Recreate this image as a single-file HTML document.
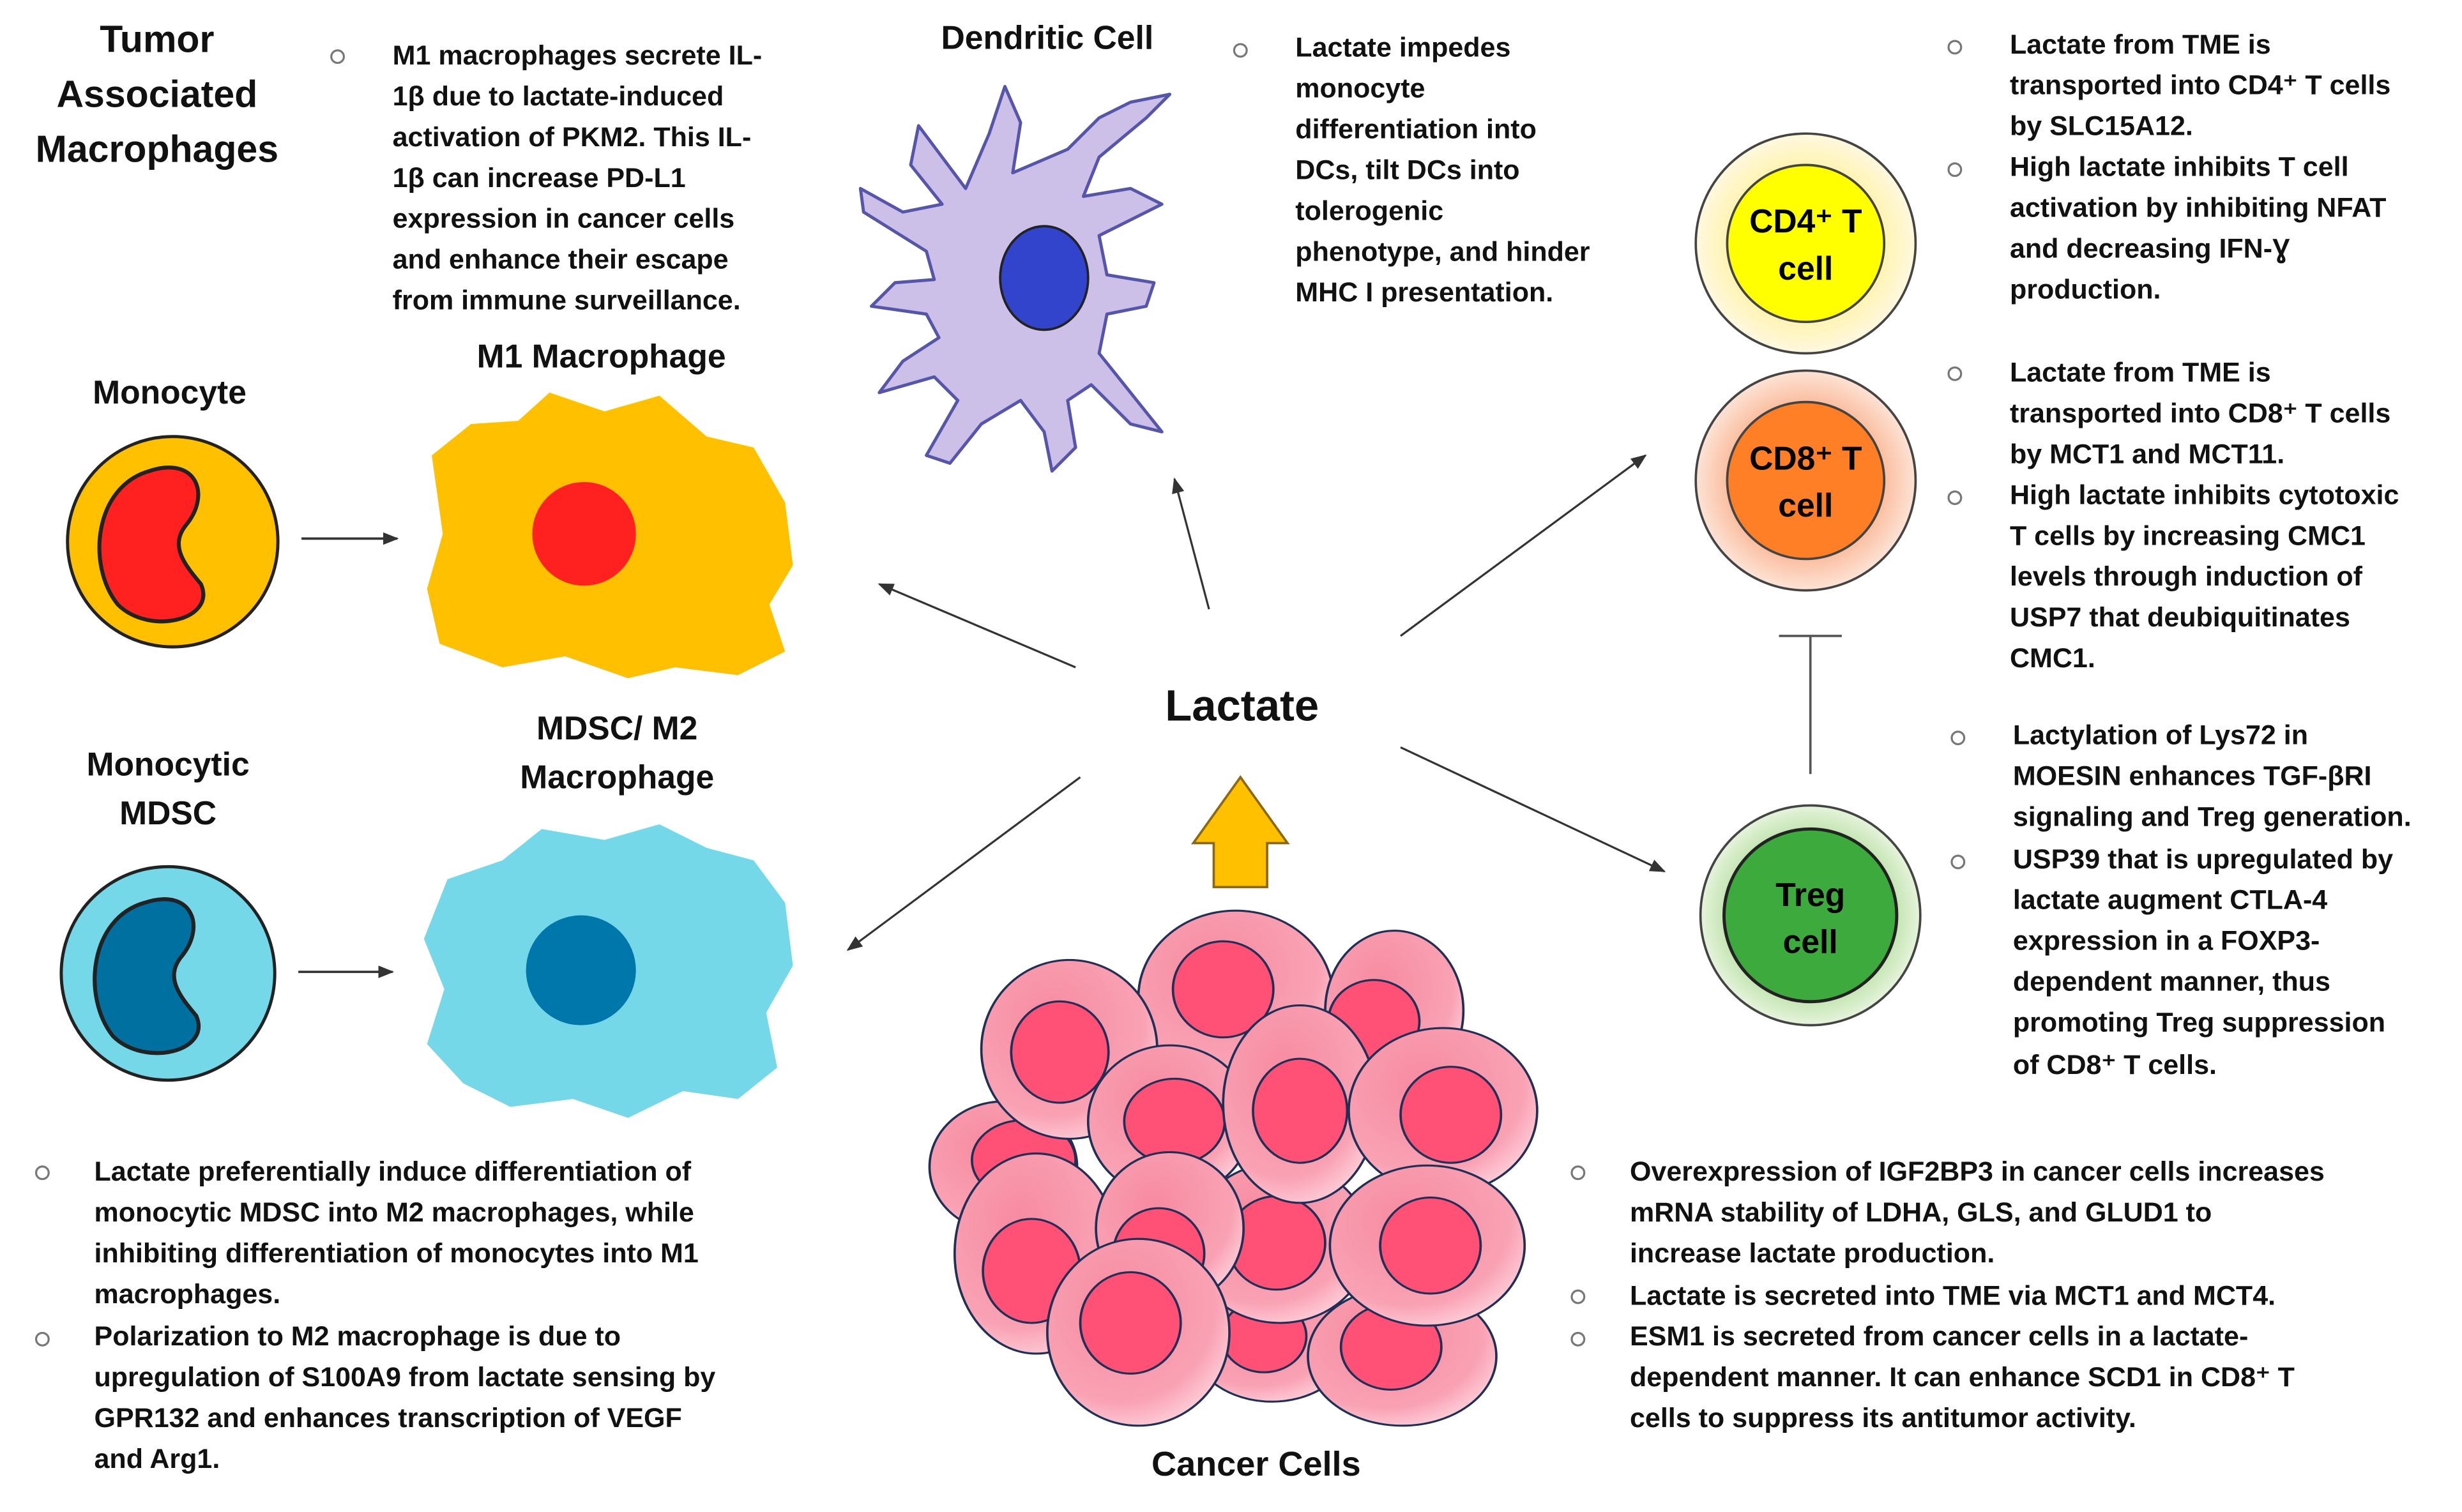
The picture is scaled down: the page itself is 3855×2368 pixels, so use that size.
<!DOCTYPE html>
<html><head><meta charset="utf-8"><style>html,body{margin:0;padding:0;background:#fff}svg{display:block}</style></head>
<body>
<svg width="3855" height="2368" viewBox="0 0 1568 963" xmlns="http://www.w3.org/2000/svg" font-family="Liberation Sans, sans-serif" font-weight="bold">
<defs>
<radialGradient id="pk" cx="0.4" cy="0.35" r="0.7"><stop offset="0" stop-color="#F78AA0"/><stop offset="0.75" stop-color="#F9A2B4"/><stop offset="1" stop-color="#FFD0DA"/></radialGradient>
<radialGradient id="g4"><stop offset="0.6" stop-color="#FFF2A0"/><stop offset="1" stop-color="#FFF8E0"/></radialGradient>
<radialGradient id="g8"><stop offset="0.6" stop-color="#F9B08A"/><stop offset="1" stop-color="#FDE3D6"/></radialGradient>
<radialGradient id="gt"><stop offset="0.6" stop-color="#A8D890"/><stop offset="1" stop-color="#E6F4DC"/></radialGradient>
<marker id="ar" markerWidth="10" markerHeight="8" refX="9" refY="4" orient="auto" markerUnits="userSpaceOnUse"><path d="M0,0 L10,4 L0,8 z" fill="#333"/></marker>
</defs>
<g font-size="24" text-anchor="middle" fill="#111">
<text x="100" y="33">Tumor</text><text x="100" y="68">Associated</text><text x="100" y="103">Macrophages</text>
</g>
<g font-size="21" text-anchor="middle" fill="#111">
<text x="667" y="31">Dendritic Cell</text>
<text x="108" y="257">Monocyte</text>
<text x="383" y="234">M1 Macrophage</text>
<text x="107" y="494">Monocytic</text><text x="107" y="525">MDSC</text>
<text x="393" y="471">MDSC/ M2</text><text x="393" y="502">Macrophage</text>
<text x="800" y="940" font-size="22">Cancer Cells</text>
<text x="791" y="459" font-size="28">Lactate</text>
</g>
<g fill="none" stroke="#777" stroke-width="1.3">
<circle cx="215" cy="36" r="4"/><circle cx="790" cy="32" r="4"/><circle cx="1245" cy="30" r="4"/><circle cx="1245" cy="108" r="4"/>
<circle cx="1245" cy="238" r="4"/><circle cx="1245" cy="317" r="4"/><circle cx="1247" cy="470" r="4"/><circle cx="1247" cy="549" r="4"/>
<circle cx="27" cy="747" r="4"/><circle cx="27" cy="853" r="4"/><circle cx="1005" cy="747" r="4"/><circle cx="1005" cy="826" r="4"/><circle cx="1005" cy="853" r="4"/>
</g>
<g font-size="17.5" fill="#111">
<text x="250" y="41">M1 macrophages secrete IL-</text><text x="250" y="67">1β due to lactate-induced</text><text x="250" y="93">activation of PKM2. This IL-</text><text x="250" y="119">1β can increase PD-L1</text><text x="250" y="145">expression in cancer cells</text><text x="250" y="171">and enhance their escape</text><text x="250" y="197">from immune surveillance.</text>
<text x="825" y="36">Lactate impedes</text><text x="825" y="62">monocyte</text><text x="825" y="88">differentiation into</text><text x="825" y="114">DCs, tilt DCs into</text><text x="825" y="140">tolerogenic</text><text x="825" y="166">phenotype, and hinder</text><text x="825" y="192">MHC I presentation.</text>
<text x="1280" y="34">Lactate from TME is</text><text x="1280" y="60">transported into CD4⁺ T cells</text><text x="1280" y="86">by SLC15A12.</text><text x="1280" y="112">High lactate inhibits T cell</text><text x="1280" y="138">activation by inhibiting  NFAT</text><text x="1280" y="164">and decreasing IFN-Ɣ</text><text x="1280" y="190">production.</text>
<text x="1280" y="243">Lactate from TME is</text><text x="1280" y="269">transported into CD8⁺ T cells</text><text x="1280" y="295">by MCT1 and MCT11.</text><text x="1280" y="321">High lactate inhibits cytotoxic</text><text x="1280" y="347">T cells by increasing CMC1</text><text x="1280" y="373">levels through induction of</text><text x="1280" y="399">USP7 that deubiquitinates</text><text x="1280" y="425">CMC1.</text>
<text x="1282" y="474">Lactylation of Lys72 in</text><text x="1282" y="500">MOESIN enhances TGF-βRI</text><text x="1282" y="526">signaling and Treg generation.</text><text x="1282" y="553">USP39 that is upregulated by</text><text x="1282" y="579">lactate augment CTLA-4</text><text x="1282" y="605">expression in a FOXP3-</text><text x="1282" y="631">dependent manner, thus</text><text x="1282" y="657">promoting Treg suppression</text><text x="1282" y="684">of CD8⁺ T cells.</text>
<text x="60" y="752">Lactate preferentially induce differentiation of</text><text x="60" y="778">monocytic MDSC into M2 macrophages, while</text><text x="60" y="804">inhibiting differentiation of monocytes into M1</text><text x="60" y="830">macrophages.</text>
<text x="60" y="857">Polarization to M2 macrophage is due to</text><text x="60" y="883">upregulation of S100A9 from lactate sensing by</text><text x="60" y="909">GPR132 and enhances transcription of VEGF</text><text x="60" y="935">and Arg1.</text>
<text x="1038" y="752">Overexpression of IGF2BP3 in cancer cells increases</text><text x="1038" y="778">mRNA stability of LDHA, GLS, and GLUD1 to</text><text x="1038" y="804">increase lactate production.</text>
<text x="1038" y="831">Lactate is secreted into TME via MCT1 and MCT4.</text>
<text x="1038" y="857">ESM1 is secreted from cancer cells in a lactate-</text><text x="1038" y="883">dependent manner. It can enhance SCD1 in CD8⁺ T</text><text x="1038" y="909">cells to suppress its antitumor activity.</text>
</g>
<circle cx="110" cy="345" r="67" fill="#FFC000" stroke="#222" stroke-width="2"/>
<path d="M95,300 C125,290 135,315 118,335 C108,348 118,360 128,372 C138,395 95,405 75,385 C55,360 60,310 95,300 z" fill="#FF2020" stroke="#222" stroke-width="2.5"/>
<path d="M275,290 L300,270 L330,268 L350,250 L385,262 L420,252 L450,278 L480,285 L500,320 L505,360 L490,385 L500,415 L470,430 L430,425 L400,432 L360,418 L320,425 L280,410 L272,375 L282,340 z" fill="#FFC000"/>
<circle cx="372" cy="340" r="33" fill="#FF2020"/>
<line x1="192" y1="343" x2="253" y2="343" stroke="#333" stroke-width="1.5" marker-end="url(#ar)"/>
<circle cx="107" cy="620" r="68" fill="#75D8E8" stroke="#222" stroke-width="2"/>
<path d="M92,575 C122,565 132,590 115,610 C105,623 115,635 125,647 C135,670 92,680 72,660 C52,635 57,585 92,575 z" fill="#0070A0" stroke="#222" stroke-width="2.5"/>
<path d="M285,560 L320,548 L345,528 L385,535 L420,525 L450,540 L480,548 L500,575 L505,615 L488,645 L495,680 L470,700 L435,695 L400,712 L365,700 L325,705 L295,690 L272,665 L283,630 L270,598 z" fill="#75D8E8"/>
<circle cx="370" cy="618" r="35" fill="#0077AA"/>
<line x1="190" y1="619" x2="250" y2="619" stroke="#333" stroke-width="1.5" marker-end="url(#ar)"/>
<path d="M600,130 L580,105 L585,80 L600,100 L615,120 L630,85 L640,55 L650,78 L645,110 L680,95 L700,75 L720,65 L745,60 L730,75 L700,100 L690,125 L720,120 L740,130 L720,140 L700,150 L705,175 L735,180 L730,195 L705,200 L700,225 L720,250 L740,275 L720,270 L695,245 L680,255 L685,285 L670,300 L665,275 L650,255 L625,270 L605,295 L590,290 L610,255 L595,240 L560,250 L575,230 L598,215 L590,200 L555,195 L570,180 L595,178 L590,160 L550,135 L548,120 L575,135 z" fill="#CCC0E8" stroke="#5555AA" stroke-width="2" stroke-linejoin="round"/>
<ellipse cx="665" cy="177" rx="28" ry="33" fill="#3344CC" stroke="#222" stroke-width="1.5"/>
<circle cx="1150" cy="155" r="70" fill="url(#g4)" stroke="#444" stroke-width="1.5"/>
<circle cx="1150" cy="155" r="50" fill="#FFFF00" stroke="#444" stroke-width="1.5"/>
<text x="1150" y="148" font-size="21" text-anchor="middle">CD4⁺ T</text><text x="1150" y="178" font-size="21" text-anchor="middle">cell</text>
<circle cx="1150" cy="306" r="70" fill="url(#g8)" stroke="#444" stroke-width="1.5"/>
<circle cx="1150" cy="306" r="50" fill="#FF7F27" stroke="#444" stroke-width="1.5"/>
<text x="1150" y="299" font-size="21" text-anchor="middle">CD8⁺ T</text><text x="1150" y="329" font-size="21" text-anchor="middle">cell</text>
<circle cx="1153" cy="583" r="70" fill="url(#gt)" stroke="#444" stroke-width="1.5"/>
<circle cx="1153" cy="583" r="55" fill="#3CAA3C" stroke="#222" stroke-width="2"/>
<text x="1153" y="577" font-size="21" text-anchor="middle">Treg</text><text x="1153" y="607" font-size="21" text-anchor="middle">cell</text>
<g stroke="#555" stroke-width="1.5"><line x1="1153" y1="405" x2="1153" y2="493"/><line x1="1133" y1="405" x2="1173" y2="405"/></g>
<g stroke="#333" stroke-width="1.3" marker-end="url(#ar)">
<line x1="685" y1="425" x2="560" y2="372"/><line x1="770" y1="388" x2="748" y2="305"/>
<line x1="892" y1="405" x2="1048" y2="290"/><line x1="892" y1="476" x2="1060" y2="555"/>
<line x1="688" y1="495" x2="540" y2="605"/>
</g>
<path d="M773,565 L773,537 L760,537 L790,495 L820,537 L807,537 L807,565 z" fill="#FFC000" stroke="#8B6914" stroke-width="1.5"/>
<g stroke="#1F2F55" stroke-width="1.5" transform="translate(0,580) scale(1,0.85) translate(0,-580)">
<ellipse cx="787" cy="645" rx="62" ry="65" fill="url(#pk)"/><ellipse cx="779" cy="639" rx="32" ry="36" fill="#FF5075"/>
<ellipse cx="888" cy="655" rx="44" ry="60" fill="url(#pk)"/><ellipse cx="875" cy="663" rx="29" ry="31" fill="#FF5075"/>
<ellipse cx="639" cy="772" rx="47" ry="49" fill="url(#pk)"/><ellipse cx="652" cy="767" rx="33" ry="30" fill="#FF5075"/>
<ellipse cx="810" cy="901" rx="52" ry="47" fill="url(#pk)"/><ellipse cx="805" cy="899" rx="27" ry="27" fill="#FF5075"/>
<ellipse cx="893" cy="914" rx="60" ry="52" fill="url(#pk)"/><ellipse cx="886" cy="907" rx="32" ry="32" fill="#FF5075"/>
<ellipse cx="815" cy="829" rx="57" ry="60" fill="url(#pk)"/><ellipse cx="813" cy="829" rx="31" ry="35" fill="#FF5075"/>
<ellipse cx="681" cy="684" rx="56" ry="67" fill="url(#pk)"/><ellipse cx="675" cy="686" rx="31" ry="38" fill="#FF5075"/>
<ellipse cx="745" cy="738" rx="52" ry="57" fill="url(#pk)"/><ellipse cx="748" cy="738" rx="32" ry="32" fill="#FF5075"/>
<ellipse cx="828" cy="725" rx="49" ry="74" fill="url(#pk)"/><ellipse cx="828" cy="730" rx="30" ry="39" fill="#FF5075"/>
<ellipse cx="919" cy="730" rx="60" ry="62" fill="url(#pk)"/><ellipse cx="924" cy="733" rx="32" ry="36" fill="#FF5075"/>
<ellipse cx="909" cy="831" rx="62" ry="60" fill="url(#pk)"/><ellipse cx="911" cy="831" rx="32" ry="36" fill="#FF5075"/>
<ellipse cx="660" cy="837" rx="52" ry="75" fill="url(#pk)"/><ellipse cx="657" cy="850" rx="31" ry="39" fill="#FF5075"/>
<ellipse cx="745" cy="818" rx="47" ry="57" fill="url(#pk)"/><ellipse cx="738" cy="837" rx="29" ry="34" fill="#FF5075"/>
<ellipse cx="725" cy="896" rx="58" ry="70" fill="url(#pk)"/><ellipse cx="720" cy="889" rx="32" ry="38" fill="#FF5075"/>
</g>
</svg>
</body></html>
